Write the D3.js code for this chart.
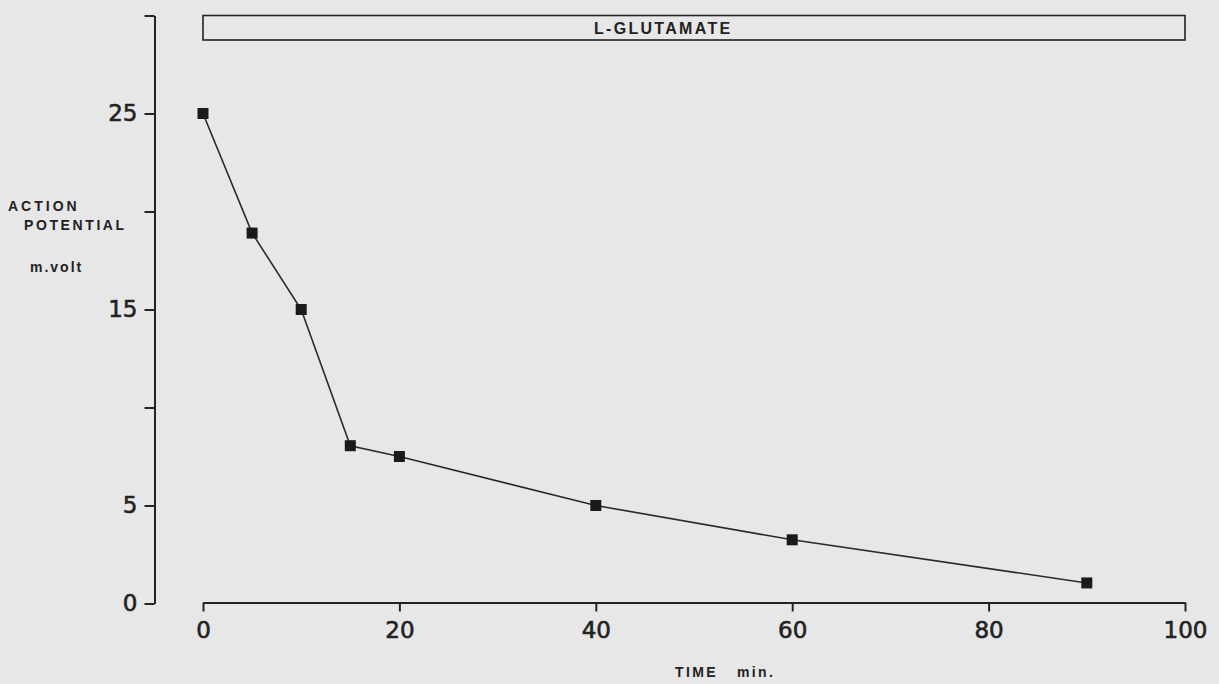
<!DOCTYPE html>
<html>
<head>
<meta charset="utf-8">
<script src="https://cdn.jsdelivr.net/npm/d3@7"></script>
<style>
  html, body { margin: 0; padding: 0; background: #e7e7e7; }
  svg { display: block; }
  text { font-family: "Liberation Sans", "DejaVu Sans", sans-serif; fill: #222; }
</style>
</head>
<body>
<svg id="chart" width="1219" height="684"></svg>
<script>
// Time after L-glutamate application (min) and action potential amplitude (mV)
const timeMin = [0, 5, 10, 15, 20, 40, 60, 90];
const actionPotential = [25, 18.9, 15, 8.05, 7.5, 5.0, 3.25, 1.05];

// Axis ticks
const xTicks = [0, 20, 40, 60, 80, 100];
const yTicks = [0, 5, 10, 15, 20, 25, 30];
const yTickLabels = [0, 5, 15, 25];

// Treatment bar spans the whole run
const treatmentLabel = "L-GLUTAMATE";
const treatmentSpan = [0, 100];

const ink = "#242424";
const svg = d3.select("#chart");

const x = d3.scaleLinear().domain([0, 100]).range([203, 1185]);
const y = d3.scaleLinear().domain([0, 30]).range([603.5, 15.5]);

// Y axis (ticks on the left, only some labelled)
const yAxis = svg.append("g")
  .attr("transform", "translate(154.5,0)")
  .call(d3.axisLeft(y)
    .tickValues(yTicks)
    .tickSize(10)
    .tickSizeOuter(0)
    .tickPadding(7)
    .tickFormat(d => yTickLabels.includes(d) ? d : ""));
yAxis.select(".domain").attr("stroke", ink).attr("stroke-width", 2);
yAxis.selectAll(".tick line").attr("stroke", ink).attr("stroke-width", 2);
yAxis.selectAll(".tick text")
  .attr("font-size", 23).attr("fill", ink)
  .attr("stroke", ink).attr("stroke-width", 0.6)
  .style("font-family", "'DejaVu Sans', sans-serif");

// X axis starts at t = 0, detached from the y axis
const xAxis = svg.append("g")
  .attr("transform", "translate(0,602.5)")
  .call(d3.axisBottom(x)
    .tickValues(xTicks)
    .tickSize(9)
    .tickSizeOuter(0)
    .tickPadding(10));
xAxis.select(".domain").attr("stroke", ink).attr("stroke-width", 2);
xAxis.selectAll(".tick line").attr("stroke", ink).attr("stroke-width", 2);
xAxis.selectAll(".tick text")
  .attr("font-size", 23).attr("fill", ink)
  .attr("stroke", ink).attr("stroke-width", 0.6)
  .style("font-family", "'DejaVu Sans', sans-serif");

// Treatment bar
svg.append("rect")
  .attr("x", x(treatmentSpan[0]))
  .attr("y", 15.5)
  .attr("width", x(treatmentSpan[1]) - x(treatmentSpan[0]))
  .attr("height", 24.5)
  .attr("fill", "none")
  .attr("stroke", ink)
  .attr("stroke-width", 1.6);
svg.append("text")
  .attr("x", 594).attr("y", 34)
  .attr("font-size", 16).attr("font-weight", "bold")
  .attr("letter-spacing", 2.3)
  .text(treatmentLabel);

// Data line and square markers
const pts = timeMin.map((t, i) => [t, actionPotential[i]]);
svg.append("path")
  .datum(pts)
  .attr("fill", "none")
  .attr("stroke", "#2a2a2a")
  .attr("stroke-width", 1.6)
  .attr("d", d3.line().x(d => x(d[0])).y(d => y(d[1])));

const ms = 11;
svg.selectAll("rect.pt")
  .data(pts)
  .join("rect")
  .attr("class", "pt")
  .attr("x", d => x(d[0]) - ms / 2)
  .attr("y", d => y(d[1]) - ms / 2)
  .attr("width", ms).attr("height", ms)
  .attr("fill", "#1a1a1a");

// Axis titles
const yTitle = svg.append("g")
  .attr("font-size", 14).attr("font-weight", "bold");
yTitle.append("text").attr("x", 8).attr("y", 211).attr("letter-spacing", 3).text("ACTION");
yTitle.append("text").attr("x", 24).attr("y", 230).attr("letter-spacing", 2.6).text("POTENTIAL");
yTitle.append("text").attr("x", 30).attr("y", 272).attr("letter-spacing", 2).text("m.volt");

svg.append("text")
  .attr("x", 675).attr("y", 677)
  .attr("font-size", 14).attr("font-weight", "bold")
  .attr("letter-spacing", 2.4)
  .attr("xml:space", "preserve")
  .style("white-space", "pre")
  .text("TIME   min.");
</script>
</body>
</html>
